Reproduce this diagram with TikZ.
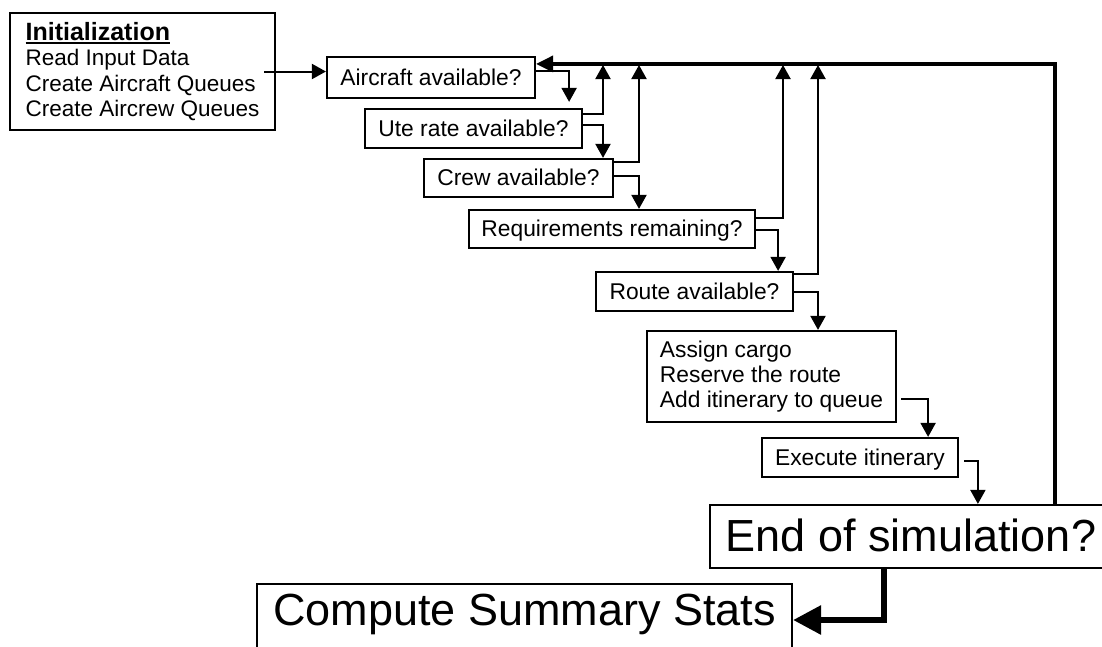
\documentclass[tikz,border=0pt]{standalone}
\usepackage{fontspec}
\setmainfont{Liberation Sans}
\usetikzlibrary{arrows.meta}

% bold heading with a heavy rule underneath
\newcommand\headline[1]{\vtop{\hbox{\bfseries #1}\kern1.6pt\hrule height 2.2pt}}

\begin{document}
\begin{tikzpicture}[x=1pt,y=-1pt,
  box/.style={draw, line width=2.2pt, inner sep=0pt,
              font=\fontsize{22.8}{25}\selectfont},
  one/.style={text height=16.5pt, text depth=1.5pt},
  big/.style={font=\fontsize{45}{50}\selectfont, text height=32.5pt, text depth=3.5pt},
  conn/.style={line width=2pt, -{Triangle[length=14pt,width=15pt]}},
  loopline/.style={line width=3.2pt, -{Triangle[length=17pt,width=16pt]}},
  endflow/.style={line width=6pt, -{Triangle[length=28pt,width=28pt]}}]

\useasboundingbox (0,0) rectangle (1102,646);
\clip (0,0) rectangle (1102,646);

% process boxes
\node[box, minimum width=265pt, minimum height=117pt, align=left,
      font=\fontsize{22.5}{25.5}\selectfont] (init) at (142.5,71.5)
  {{\fontsize{25}{25.5}\selectfont\headline{Initialization}}\\
   Read Input Data\\Create Aircraft Queues\\Create Aircrew Queues};
\node[box, one, minimum width=208pt, minimum height=41pt] (air) at (431,77.5) {Aircraft available?};
\node[box, one, minimum width=217pt, minimum height=39pt] (ute) at (473.5,128.5) {Ute rate available?};
\node[box, one, minimum width=189pt, minimum height=38pt] (crew) at (518.5,178) {Crew available?};
\node[box, one, minimum width=286pt, minimum height=38pt] (req) at (612,229) {Requirements remaining?};
\node[box, one, minimum width=197pt, minimum height=39pt] (route) at (694.5,291.5) {Route available?};
\node[box, minimum width=249pt, minimum height=91pt, align=left] (assign) at (771.5,376.5)
  {Assign cargo\\Reserve the route\\Add itinerary to queue};
\node[box, one, minimum width=196pt, minimum height=39pt] (exec) at (860,457.5) {Execute itinerary};
\node[box, big, minimum width=402pt, minimum height=63pt] (end) at (911,536.5) {End of simulation?};
\node[box, big, text depth=22.5pt, minimum width=535pt, minimum height=72pt] (comp) at (524.5,620)
  {Compute Summary Stats};

% points where the return branches meet the loop line
\coordinate (r1) at (603,65);
\coordinate (r2) at (639,65);
\coordinate (r3) at (783,65);
\coordinate (r4) at (818,65);

% main flow
\draw[conn] ([xshift=-12pt]init.east) -- (init.east -| air.west);
\draw[conn] ([yshift=-15pt]air.north east) -| ([xshift=-14pt,yshift=6pt]ute.north east);
\draw[conn] ([yshift=-17pt]ute.north east) -| (r1 |- crew.north);
\draw[conn] ([yshift=-18pt]crew.north east) -| (r2 |- req.north);
\draw[conn] ([yshift=-21pt]req.north east) -| ([xshift=-16pt]route.north east);
\draw[conn] ([yshift=-21pt]route.north east) -| (r4 |- assign.north);
\draw[conn] ([xshift=4pt,yshift=-69pt]assign.north east) -| ([xshift=-31pt]exec.north east);
\draw[conn] ([xshift=5pt,yshift=-24pt]exec.north east) -| ([xshift=269pt]end.north west);

% return branches
\draw[conn] ([yshift=-6pt]ute.north east) -| (r1);
\draw[conn] ([yshift=-4pt]crew.north east) -| (r2);
\draw[conn] ([yshift=-9pt]req.north east) -| (r3);
\draw[conn] ([yshift=-3pt]route.north east) -| (r4);

% loop back to the start
\draw[loopline] ([xshift=346pt]end.north west) |- ([yshift=-8pt]air.north east);

% exit
\draw[endflow] ([xshift=175pt]end.south west) |- (comp.east);
\end{tikzpicture}
\end{document}
